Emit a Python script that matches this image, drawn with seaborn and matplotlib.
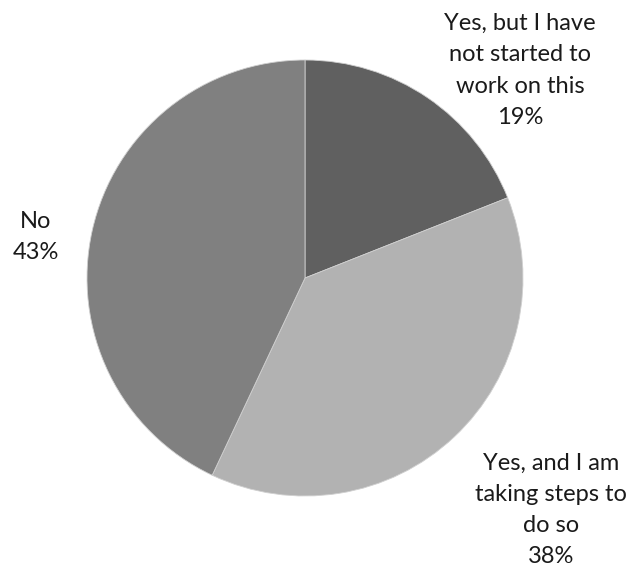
import matplotlib
matplotlib.use("Agg")
import matplotlib.pyplot as plt
import seaborn as sns

labels = ["Yes, but I have\nnot started to\nwork on this", "Yes, and I am\ntaking steps to\ndo so", "No"]
shares = [19, 38, 43]
colors = ["#606060", "#b2b2b2", "#808080"]

sns.set_theme(style="white")
plt.rcParams["font.family"] = ["Lato", "DejaVu Sans"]

fig = plt.figure(figsize=(6.35, 5.69), dpi=100)
# pie centre ~ (305, 278) px, radius ~ 218 px
ax = fig.add_axes([305/635 - 218/635, 1 - 278/569 - 218/569, 436/635, 436/569])
ax.pie(shares, colors=colors, startangle=90, counterclock=False,
       radius=1, wedgeprops=dict(edgecolor="#d0d0d0", linewidth=0.6))
ax.set_xlim(-1, 1)
ax.set_ylim(-1, 1)
ax.set_aspect("equal")
ax.axis("off")

# label positions (data units, radius = 1)
pos = [(0.986, 0.952), (1.128, -1.064), (-1.234, 0.188)]
for lab, pct, (x, y) in zip(labels, shares, pos):
    ax.text(x, y, f"{lab}\n{pct}%", ha="center", va="center", fontsize=17,
            linespacing=1.6, color="#1a1a1a", clip_on=False)

fig.savefig("out.png", dpi=100, facecolor="white")
